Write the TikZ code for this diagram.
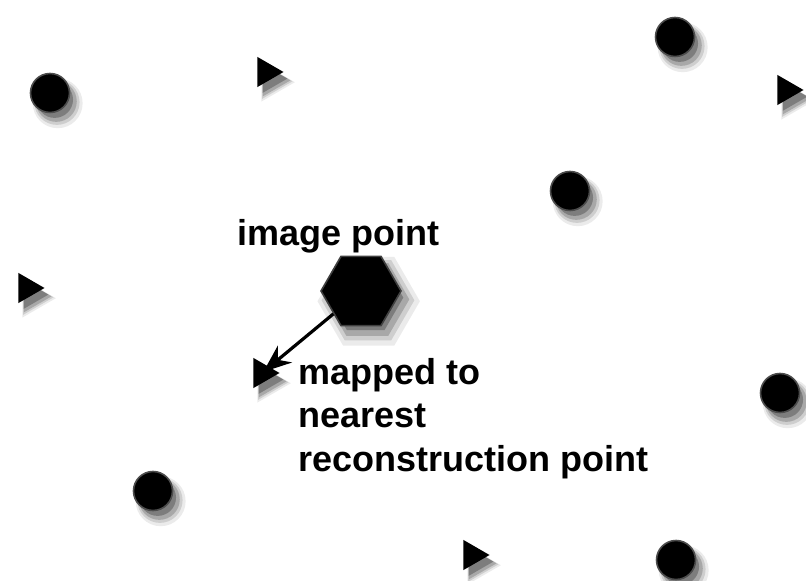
\documentclass[tikz,border=0pt]{standalone}
\usepackage{fontspec}
\setmainfont{Liberation Sans}
\usetikzlibrary{shapes.geometric,shadows,arrows.meta}
\begin{document}
\begin{tikzpicture}[x=0.5pt,y=-0.5pt,
  soft/.style={
    general shadow={fill=black, opacity=0.08, shadow xshift=3pt, shadow yshift=-4pt, shadow scale=1.28},
    general shadow={fill=black, opacity=0.12, shadow xshift=3pt, shadow yshift=-4pt, shadow scale=1.16},
    general shadow={fill=black, opacity=0.18, shadow xshift=3pt, shadow yshift=-4pt, shadow scale=1.05},
    general shadow={fill=black, opacity=0.25, shadow xshift=2.5pt, shadow yshift=-3.5pt, shadow scale=0.94}},
  ball/.style={circle, fill=black, draw=black!70, line width=0.8pt, inner sep=0pt, minimum size=19.5pt, soft},
  tri/.style={regular polygon, regular polygon sides=3, shape border rotate=-90, fill=black, inner sep=0pt, minimum size=17.5pt, soft},
  hexa/.style={regular polygon, regular polygon sides=6, fill=black, draw=black!75, line width=0.8pt, inner sep=0pt, minimum size=40pt, soft},
  lbl/.style={anchor=base west, inner sep=0pt, font=\fontsize{18pt}{21.5pt}\selectfont\bfseries}]
\fill[white] (0,0) rectangle (806,581);
\useasboundingbox (0,0) rectangle (806,581);
% reconstruction points: circles
\node[ball] (c1) at (50,93) {};
\node[ball] (c2) at (675,37) {};
\node[ball] (c3) at (570,191) {};
\node[ball] (c4) at (780,393) {};
\node[ball] (c5) at (153,491) {};
\node[ball] (c6) at (676,560) {};
% reconstruction points: triangles
\node[tri] (t1) at (266,72) {};
\node[tri] (t2) at (786,90) {};
\node[tri] (t3) at (27,288) {};
\node[tri] (t4) at (262,373) {};
\node[tri] (t5) at (472,555) {};
% image point
\node[hexa] (hex) at (361,291) {};
\draw[line width=1.6pt, -{Stealth[length=14pt,width=11pt]}, shorten >=-4pt] (hex) -- (t4);
% labels
\node[lbl] (lip) at (237,246) {image point};
\node[lbl] (lm1) at (298,385) {mapped to};
\node[lbl] (lm2) at (298,428) {nearest};
\node[lbl] (lm3) at (298,471) {reconstruction point};
\end{tikzpicture}
\end{document}
